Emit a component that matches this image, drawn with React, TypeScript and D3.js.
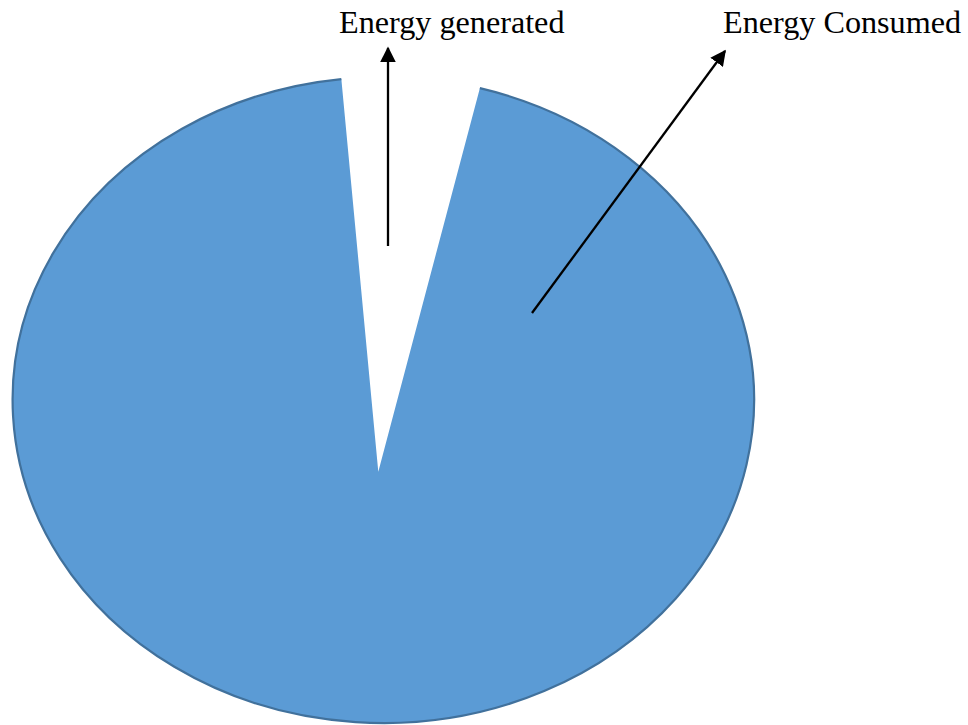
import { useEffect, useRef } from "react";
import * as d3 from "d3";

// slice data (share of the total, %)
const categories = ["Energy generated", "Energy Consumed"];
const values = [6, 94];
const fills = ["#ffffff", "#5b9bd5"];

export default function App() {
  const ref = useRef<SVGSVGElement>(null);

  useEffect(() => {
    const width = 968;
    const height = 725;

    // Ellipse geometry of the (stretched) pie
    const cx = 383.3;
    const cy = 400;
    const rx = 370.7;
    const ry = 323;
    // the wedge apex sits a bit below the ellipse centre, as in the picture
    const apex: [number, number] = [378.3, 471.7];
    const rotation = (-6.5 * Math.PI) / 180;

    const svg = d3.select(ref.current);
    svg.selectAll("*").remove();
    svg.attr("width", width).attr("height", height);

    const pie = d3
      .pie<number>()
      .sort(null)
      .startAngle(rotation)
      .endAngle(rotation + 2 * Math.PI);

    const arcs = pie(values);

    const pt = (a: number): [number, number] => [
      cx + rx * Math.sin(a),
      cy - ry * Math.cos(a),
    ];

    const defs = svg.append("defs");
    defs
      .append("marker")
      .attr("id", "head")
      .attr("viewBox", "0 0 10 10")
      .attr("refX", 9)
      .attr("refY", 5)
      .attr("markerWidth", 6.8)
      .attr("markerHeight", 6.8)
      .attr("markerUnits", "strokeWidth")
      .attr("orient", "auto")
      .append("path")
      .attr("d", "M0,0 L10,5 L0,10 Z")
      .attr("fill", "#000");

    const g = svg.append("g");

    arcs.forEach((d, i) => {
      const [x0, y0] = pt(d.startAngle);
      const [x1, y1] = pt(d.endAngle);
      const large = d.endAngle - d.startAngle > Math.PI ? 1 : 0;
      g.append("path")
        .attr(
          "d",
          `M${apex[0]},${apex[1]} L${x0},${y0} A${rx},${ry} 0 ${large} 1 ${x1},${y1} Z`
        )
        .attr("fill", fills[i])
        .attr("stroke", "none");
      if (i > 0) {
        // outline only along the curved edge
        g.append("path")
          .attr("d", `M${x0},${y0} A${rx},${ry} 0 ${large} 1 ${x1},${y1}`)
          .attr("fill", "none")
          .attr("stroke", "#41719c")
          .attr("stroke-width", 2.2);
      }
    });

    // callouts: label position + arrow from inside the slice up to the label
    const callouts = [
      { text: categories[0], tx: 339, ty: 33, from: [388, 246], to: [388, 48] },
      { text: categories[1], tx: 723, ty: 33, from: [532, 313], to: [725, 51] },
    ];

    callouts.forEach((c) => {
      svg
        .append("line")
        .attr("x1", c.from[0])
        .attr("y1", c.from[1])
        .attr("x2", c.to[0])
        .attr("y2", c.to[1])
        .attr("stroke", "#000")
        .attr("stroke-width", 2.3)
        .attr("marker-end", "url(#head)");

      svg
        .append("text")
        .attr("x", c.tx)
        .attr("y", c.ty)
        .attr("font-family", "'Liberation Serif', 'Times New Roman', serif")
        .attr("font-size", 32.2)
        .attr("fill", "#000")
        .text(c.text);
    });
  }, []);

  return (
    <svg
      ref={ref}
      style={{ position: "absolute", left: 0, top: 0, display: "block" }}
    ></svg>
  );
}
